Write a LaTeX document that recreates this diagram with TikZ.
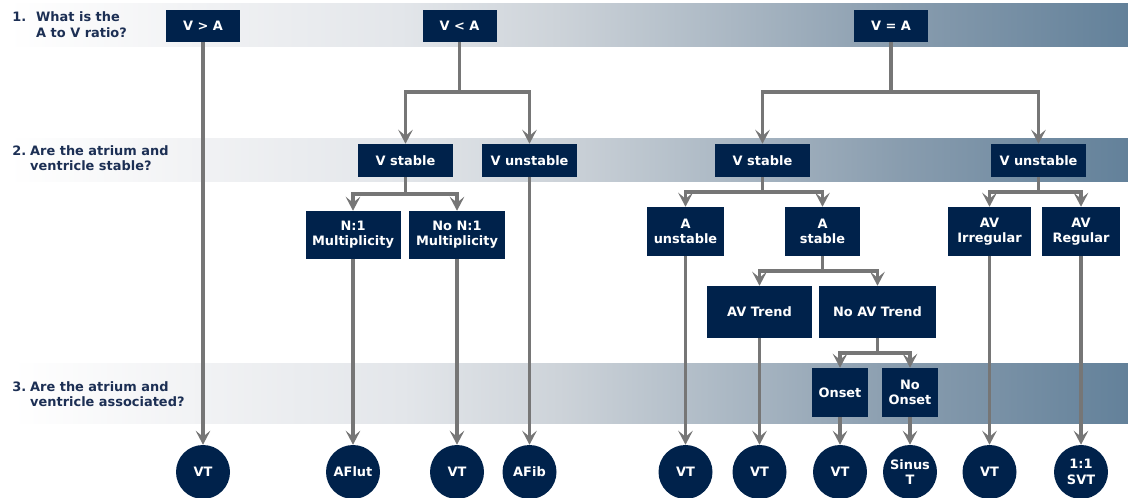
\documentclass[tikz,border=0pt]{standalone}
\usepackage{fontspec}
\setmainfont{DejaVu Sans}
\usepackage{xcolor}
\usetikzlibrary{arrows.meta, calc, positioning}

\definecolor{navy}{HTML}{00224B}
\definecolor{qtext}{HTML}{1C2F54}
\definecolor{linegray}{HTML}{767676}
\definecolor{bandA}{HTML}{F1F2F4}
\definecolor{bandB}{HTML}{E3E6EA}
\definecolor{bandC}{HTML}{CDD3D9}
\definecolor{bandD}{HTML}{B0BCC7}
\definecolor{bandE}{HTML}{889CAE}
\definecolor{bandF}{HTML}{63819A}
\pgfdeclarehorizontalshading{bandshade}{100bp}{color(0bp)=(white); color(25bp)=(white); color(33.5bp)=(bandA); color(42.5bp)=(bandB); color(49.5bp)=(bandC); color(56bp)=(bandD); color(65bp)=(bandE); color(75bp)=(bandF); color(100bp)=(bandF)}

\begin{document}
\begin{tikzpicture}[x=0.75pt, y=-0.75pt,
    box/.style={fill=navy, text=white, font=\bfseries\fontsize{9.7}{11.5}\selectfont, align=center, inner sep=0pt},
    endpt/.style={circle, fill=navy, text=white, font=\bfseries\fontsize{9.7}{11.5}\selectfont, align=center, minimum size=40.5pt, inner sep=0pt},
    question/.style={anchor=west, text=qtext, font=\bfseries\fontsize{9.7}{11.5}\selectfont, inner sep=0pt},
    stem/.style={draw=linegray, line width=2.5pt},
    arr/.style={stem, -{Stealth[length=10.5pt, width=11pt, inset=4.5pt]}}]

            \useasboundingbox (0,0) rectangle (1128,498);
            \shade[shading=bandshade] (8,4) rectangle (1128,47);
            \shade[shading=bandshade] (8,139) rectangle (1128,182);
            \shade[shading=bandshade] (12,364) rectangle (1128,424);

            \node[question] (Q1) at (12,26.5) {\begin{tabular}{@{}l@{\hspace{7.5pt}}l@{}}1. & What is the\\ & A to V ratio?\end{tabular}};
            \node[question] (Q2) at (12,160) {\begin{tabular}{@{}l@{\hspace{3pt}}l@{}}2. & Are the atrium and\\ & ventricle stable?\end{tabular}};
            \node[question] (Q3) at (12,396) {\begin{tabular}{@{}l@{\hspace{3pt}}l@{}}3. & Are the atrium and\\ & ventricle associated?\end{tabular}};

            \node[box, minimum width=55.5pt, minimum height=24pt] (vga) at (203,26) {V > A};
            \node[box, minimum width=55.5pt, minimum height=24pt] (vla) at (459.5,26) {V < A};
            \node[box, minimum width=55.5pt, minimum height=24pt] (vea) at (891,26) {V = A};

            \node[box, minimum width=71.25pt, minimum height=24.75pt] (lvs) at (405.5,160.5) {V stable};
            \node[box, minimum width=71.25pt, minimum height=24.75pt] (lvu) at (529.5,160.5) {V unstable};
            \node[box, minimum width=71.25pt, minimum height=24.75pt] (rvs) at (762.5,160.5) {V stable};
            \node[box, minimum width=71.25pt, minimum height=24.75pt] (rvu) at (1038.5,160.5) {V unstable};

            \node[box, minimum width=71.25pt, minimum height=36pt] (mult) at (353,235) {N:1\\Multiplicity};
            \node[box, minimum width=72pt, minimum height=36pt] (nomult) at (457,235) {No N:1\\Multiplicity};
            \node[box, minimum width=57.75pt, minimum height=36.75pt] (aun) at (685.5,231.5) {A\\unstable};
            \node[box, minimum width=56.25pt, minimum height=36.75pt] (ast) at (822.5,231.5) {A\\stable};
            \node[box, minimum width=62.25pt, minimum height=36.75pt] (avirr) at (989.5,231.5) {AV\\Irregular};
            \node[box, minimum width=58.5pt, minimum height=36.75pt] (avreg) at (1081,231.5) {AV\\Regular};

            \node[box, minimum width=78.75pt, minimum height=39pt] (avt) at (759.5,312) {AV Trend};
            \node[box, minimum width=87.75pt, minimum height=39pt] (noavt) at (877.5,312) {No AV Trend};

            \node[box, minimum width=42pt, minimum height=36.75pt] (ons) at (840,392.5) {Onset};
            \node[box, minimum width=42pt, minimum height=36.75pt] (noons) at (910,392.5) {No\\Onset};

            \foreach \x/\t [count=\i] in {203/VT, 353/AFlut, 457/VT, 529.5/AFib, 685.5/VT, 759.5/VT, 840/VT, 910/{Sinus\\T}, 989.5/VT, 1081/{1:1\\SVT}}{
                \node[endpt] (E\i) at (\x,472) {\t};
            }

            \coordinate (f1) at (459.5,92);
            \coordinate (f2) at (891,92);
            \coordinate (f3) at (405.5,194);
            \coordinate (f4) at (762.5,192);
            \coordinate (f5) at (1038.5,192);
            \coordinate (f6) at (822.5,271);
            \coordinate (f7) at (877.5,353);

            \draw[stem] (vla) -- (f1);
            \draw[arr] (f1) -| (lvs);
            \draw[arr] (f1) -| (lvu);
            \draw[stem] (vea) -- (f2);
            \draw[arr] (f2) -| (rvs);
            \draw[arr] (f2) -| (rvu);
            \draw[stem] (lvs) -- (f3);
            \draw[arr] (f3) -| (mult);
            \draw[arr] (f3) -| (nomult);
            \draw[stem] (rvs) -- (f4);
            \draw[arr] (f4) -| (aun);
            \draw[arr] (f4) -| (ast);
            \draw[stem] (rvu) -- (f5);
            \draw[arr] (f5) -| (avirr);
            \draw[arr] (f5) -| (avreg);
            \draw[stem] (ast) -- (f6);
            \draw[arr] (f6) -| (avt);
            \draw[arr] (f6) -| (noavt);
            \draw[stem] (noavt) -- (f7);
            \draw[arr] (f7) -| (ons);
            \draw[arr] (f7) -| (noons);

            \draw[arr] (vga) -- (E1);
            \draw[arr] (mult) -- (E2);
            \draw[arr] (nomult) -- (E3);
            \draw[arr] (lvu) -- (E4);
            \draw[arr] (aun) -- (E5);
            \draw[arr] (avt) -- (E6);
            \draw[arr] (ons) -- (E7);
            \draw[arr] (noons) -- (E8);
            \draw[arr] (avirr) -- (E9);
            \draw[arr] (avreg) -- (E10);

        \end{tikzpicture}
\end{document}
